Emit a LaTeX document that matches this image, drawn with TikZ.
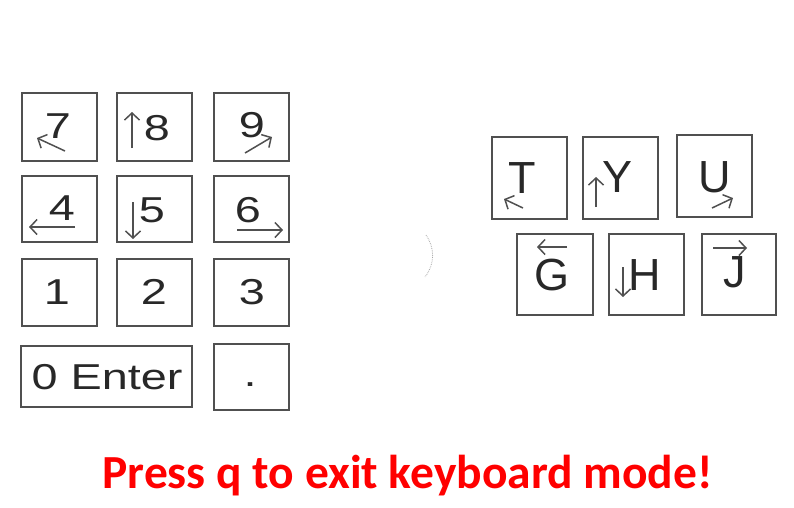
\documentclass[tikz,border=0pt]{standalone}
\usepackage{fontspec}
\setmainfont{Liberation Sans}
\newfontfamily\msgfont{Carlito}
\usetikzlibrary{arrows.meta}
\definecolor{keyedge}{RGB}{80,80,80}
\definecolor{keytext}{RGB}{40,40,40}
\definecolor{msgred}{RGB}{255,0,0}
\newcommand{\widedig}[1]{\scalebox{1.3}[1]{#1}}

\begin{document}
\begin{tikzpicture}[
    x=1pt, y=-1pt,
    key/.style={draw=keyedge, line width=2pt, fill=white, inner sep=0pt,
      minimum width=75pt, minimum height=66pt},
    num/.style={font=\fontsize{36}{36}\selectfont, text=keytext, inner sep=0pt},
    letter/.style={font=\fontsize{45}{45}\selectfont, text=keytext, inner sep=0pt},
    kar/.style={-{Straight Barb[length=7pt,width=15pt]}, keyedge, line width=1.5pt},
  ]
  \useasboundingbox (0,0) rectangle (794,507);

  % number pad
  \node[key, minimum height=68pt] (k7) at (59,127) {};
  \node[key, minimum height=68pt] (k8) at (154.5,127) {};
  \node[key, minimum height=68pt] (k9) at (251,127) {};
  \node[key] (k4) at (59,209) {};
  \node[key] (k5) at (154.5,209) {};
  \node[key] (k6) at (251,209) {};
  \node[key, minimum height=67pt] (k1) at (59,292.5) {};
  \node[key, minimum height=67pt] (k2) at (154.5,292.5) {};
  \node[key, minimum height=67pt] (k3) at (251,292.5) {};
  \node[key, minimum width=171pt, minimum height=61pt] (k0) at (106.5,376.5) {};
  \node[key] (kdot) at (251,377) {};

  \node[num] (t7) at (58,126) {\widedig{7}};
  \node[num] (t8) at (157,128) {\widedig{8}};
  \node[num] (t9) at (252,125) {\widedig{9}};
  \node[num] (t4) at (62,208) {\widedig{4}};
  \node[num] (t5) at (152,210) {\widedig{5}};
  \node[num] (t6) at (248,210) {\widedig{6}};
  \node[num] (t1) at (57,292) {\widedig{1}};
  \node[num] (t2) at (154,292) {\widedig{2}};
  \node[num] (t3) at (252,292) {\widedig{3}};
  \node[num] (t0) at (107,377) {\widedig{0 Enter}};
  \node[num] (tdot) at (250,385) {\widedig{.}};

  \draw[kar] (65,151) -- (37,138);
  \draw[kar] (132,148) -- (132,112);
  \draw[kar] (245,153) -- (272,137);
  \draw[kar] (75,227) -- (29,227);
  \draw[kar] (133,202) -- (133,239);
  \draw[kar] (237,230) -- (283,230);

  % divider
  \draw[black!35, line width=0.8pt, densely dotted]
    (426,235) .. controls (435,248) and (435,264) .. (425,277);

  % letter keys
  \node[key, minimum height=82pt] (kT) at (529.5,178) {};
  \node[key, minimum height=82pt] (kY) at (620.5,178) {};
  \node[key, minimum height=82pt] (kU) at (714.5,176) {};
  \node[key, minimum width=76pt, minimum height=81pt] (kG) at (555,274.5) {};
  \node[key, minimum height=81pt] (kH) at (646.5,274.5) {};
  \node[key, minimum width=74pt, minimum height=81pt] (kJ) at (739,274.5) {};

  \node[letter] (tT) at (522,178) {T};
  \node[letter] (tY) at (617,177) {Y};
  \node[letter] (tU) at (715,177) {U};
  \node[letter] (tG) at (552,275) {G};
  \node[letter] (tH) at (645,275) {H};
  \node[letter] (tJ) at (735,272) {J};

  \draw[kar] (523,208) -- (504,199);
  \draw[kar] (596,207) -- (596,177);
  \draw[kar] (712,208) -- (733,198);
  \draw[kar] (567,247) -- (537,247);
  \draw[kar] (623,267) -- (623,297);
  \draw[kar] (713,248) -- (747,248);

  % exit hint
  \node[font=\msgfont\bfseries\fontsize{47.5}{47.5}\selectfont, text=msgred, inner sep=0pt,
    anchor=base] (hint) at (407.5,488) {Press q to exit keyboard mode!};
\end{tikzpicture}
\end{document}
